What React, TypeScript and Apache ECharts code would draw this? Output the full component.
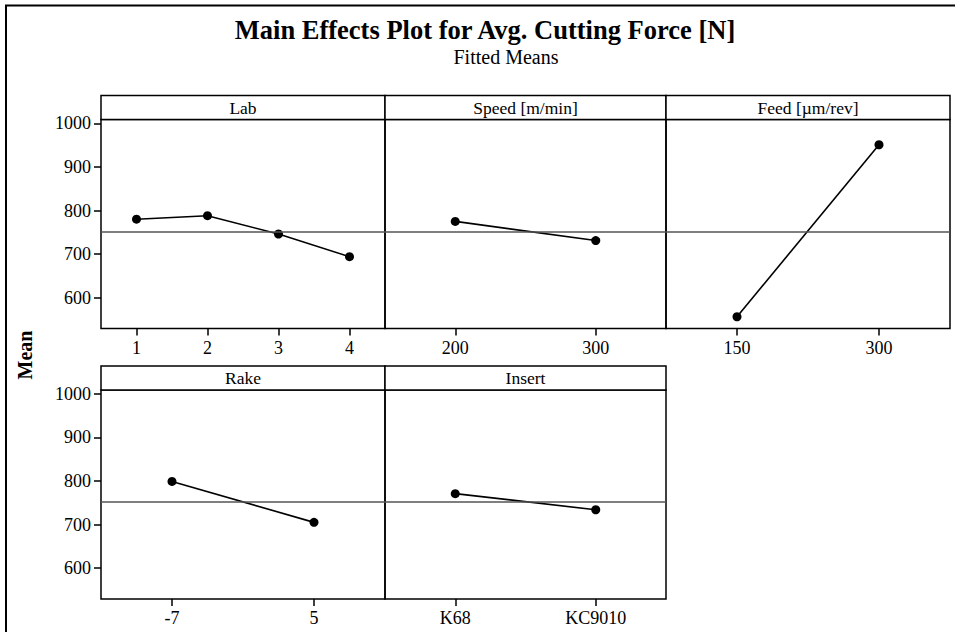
import React, { useEffect, useRef } from 'react';
import * as echarts from 'echarts';

const titleText = 'Main Effects Plot for Avg. Cutting Force [N]';
const subtitleText = 'Fitted Means';
const yAxisName = 'Mean';

const factorNames = ['Lab', 'Speed [m/min]', 'Feed [µm/rev]', 'Rake', 'Insert'];
const labLevels = ['1', '2', '3', '4'];
const labMeans = [780, 788, 746, 694];
const speedLevels = ['200', '300'];
const speedMeans = [775, 731];
const feedLevels = ['150', '300'];
const feedMeans = [556, 951];
const rakeLevels = ['-7', '5'];
const rakeMeans = [799, 705];
const insertLevels = ['K68', 'KC9010'];
const insertMeans = [771, 734];
const grandMean = 752;
const yTickValues = [600, 700, 800, 900, 1000];
const yMin = 529;
const yMax = 1009;

const colLefts = [101, 385, 666];
const colWidths = [284, 281, 284];
const rowTops = [119.5, 390];
const gridHeight = 209;
const headerHeight = 24;
const FONT = '"Liberation Serif", "Times New Roman", serif';

const panels = [
  { name: factorNames[0], levels: labLevels, means: labMeans, row: 0, col: 0 },
  { name: factorNames[1], levels: speedLevels, means: speedMeans, row: 0, col: 1 },
  { name: factorNames[2], levels: feedLevels, means: feedMeans, row: 0, col: 2 },
  { name: factorNames[3], levels: rakeLevels, means: rakeMeans, row: 1, col: 0 },
  { name: factorNames[4], levels: insertLevels, means: insertMeans, row: 1, col: 1 },
];

export default function App() {
  const ref = useRef<HTMLDivElement>(null);
  useEffect(() => {
    if (!ref.current) return;
    const chart = echarts.init(ref.current, null, { renderer: 'svg' });
    const grids: any[] = [];
    const xAxes: any[] = [];
    const yAxes: any[] = [];
    const series: any[] = [];
    const graphics: any[] = [];

    graphics.push({
      type: 'rect',
      shape: { x: 6, y: 5.5, width: 980, height: 700 },
      style: { fill: 'none', stroke: '#000', lineWidth: 2 },
      silent: true,
    });
    graphics.push({
      type: 'text', x: 485, y: 30,
      style: { text: titleText, align: 'center', verticalAlign: 'middle', font: `bold 26.5px ${FONT}`, fill: '#000' },
    });
    graphics.push({
      type: 'text', x: 506, y: 57,
      style: { text: subtitleText, align: 'center', verticalAlign: 'middle', font: `20px ${FONT}`, fill: '#000' },
    });
    graphics.push({
      type: 'text', x: 25, y: 355, rotation: Math.PI / 2,
      style: { text: yAxisName, align: 'center', verticalAlign: 'middle', font: `bold 20px ${FONT}`, fill: '#000' },
    });

    panels.forEach((p, i) => {
      const left = colLefts[p.col];
      const width = colWidths[p.col];
      const top = rowTops[p.row];
      grids.push({
        left, top, width, height: gridHeight,
        show: true, borderColor: '#000', borderWidth: 1.5, backgroundColor: 'transparent',
      });
      xAxes.push({
        type: 'category', gridIndex: i, data: p.levels, boundaryGap: true,
        axisLine: { show: false },
        axisTick: { show: true, alignWithLabel: true, inside: false, length: 7, lineStyle: { color: '#000', width: 1.5 } },
        axisLabel: { color: '#000', fontSize: 18, fontFamily: FONT, margin: 10 },
        splitLine: { show: false },
      });
      const showY = p.col === 0;
      yAxes.push({
        type: 'value', gridIndex: i, min: yMin, max: yMax,
        axisLine: { show: false },
        splitLine: { show: false },
        axisTick: { show: showY, customValues: yTickValues, inside: false, length: 7, lineStyle: { color: '#000', width: 1.5 } },
        axisLabel: {
          show: showY, customValues: yTickValues, color: '#000', fontSize: 18, fontFamily: FONT, margin: 10,
          formatter: (v: number) => String(v),
        },
      });
      series.push({
        type: 'line', xAxisIndex: i, yAxisIndex: i, data: p.means,
        symbol: 'circle', symbolSize: 9,
        itemStyle: { color: '#000' },
        lineStyle: { color: '#000', width: 1.6 },
        markLine: {
          silent: true, symbol: 'none',
          label: { show: false },
          lineStyle: { color: '#555', width: 1.5, type: 'solid' },
          data: [{ yAxis: grandMean }],
        },
      });
      graphics.push({
        type: 'rect',
        shape: { x: left, y: top - headerHeight, width, height: headerHeight },
        style: { fill: '#fff', stroke: '#000', lineWidth: 1.5 },
        silent: true,
      });
      graphics.push({
        type: 'text', x: left + width / 2, y: top - headerHeight / 2,
        style: { text: p.name, align: 'center', verticalAlign: 'middle', font: `17.5px ${FONT}`, fill: '#000' },
      });
    });

    chart.setOption({
      animation: false,
      backgroundColor: '#fff',
      grid: grids,
      xAxis: xAxes,
      yAxis: yAxes,
      series,
      graphic: graphics,
    });
    return () => chart.dispose();
  }, []);
  return <div ref={ref} style={{ position: 'fixed', left: 0, top: 0, width: 955, height: 632 }} />;
}
